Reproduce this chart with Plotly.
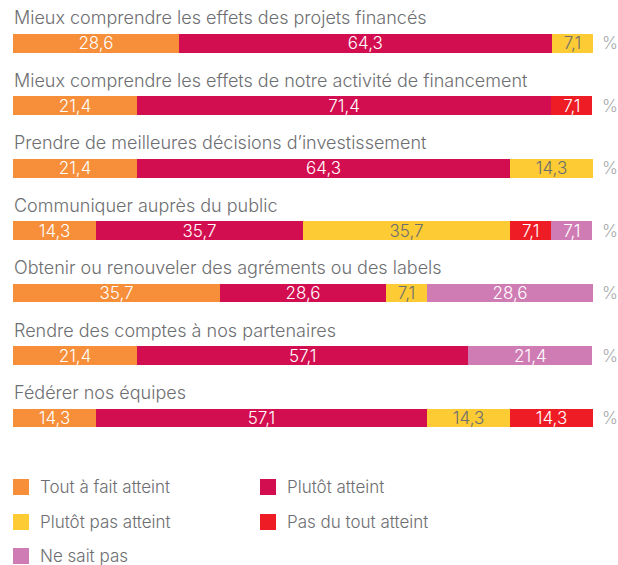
import plotly.graph_objects as go

categories = [
    "Mieux comprendre les effets des projets financés",
    "Mieux comprendre les effets de notre activité de financement",
    "Prendre de meilleures décisions d’investissement",
    "Communiquer auprès du public",
    "Obtenir ou renouveler des agréments ou des labels",
    "Rendre des comptes à nos partenaires",
    "Fédérer nos équipes",
]

tout_a_fait = [28.6, 21.4, 21.4, 14.3, 35.7, 21.4, 14.3]
plutot_atteint = [64.3, 71.4, 64.3, 35.7, 28.6, 57.1, 57.1]
plutot_pas = [7.1, 0, 14.3, 35.7, 7.1, 0, 14.3]
pas_du_tout = [0, 7.1, 0, 7.1, 0, 0, 14.3]
ne_sait_pas = [0, 0, 0, 7.1, 28.6, 21.4, 0]

series = [
    ("Tout à fait atteint", tout_a_fait, "#F68E3A", "white"),
    ("Plutôt atteint", plutot_atteint, "#D20E50", "white"),
    ("Plutôt pas atteint", plutot_pas, "#FDCB33", "#6d6e71"),
    ("Pas du tout atteint", pas_du_tout, "#EE1C25", "white"),
    ("Ne sait pas", ne_sait_pas, "#D07CB4", "white"),
]

W, H = 618, 565
M_L, M_R, M_T, M_B = 13, 25, 12, 109
FONT = "Inter, Liberation Sans, Arial, sans-serif"
WEIGHT = 300
GREY = "#6d6e71"

fig = go.Figure()
for name, vals, color, tcolor in series:
    fig.add_trace(go.Bar(
        y=categories,
        x=[v if v else None for v in vals],
        name=name,
        orientation="h",
        marker=dict(color=color, line=dict(width=0)),
        text=[f"{v:.1f}".replace(".", ",") if v else "" for v in vals],
        textposition="inside",
        insidetextanchor="middle",
        constraintext="none",
        textangle=0,
        textfont=dict(size=17, color=tcolor, family=FONT, weight=WEIGHT),
        showlegend=False,
        hoverinfo="skip",
    ))

annotations = []
for cat in categories:
    annotations.append(dict(
        x=0, xref="paper", y=cat, yref="y", text=cat,
        xanchor="left", yanchor="middle", yshift=25.5, xshift=-1,
        showarrow=False, font=dict(size=18, color=GREY, family=FONT, weight=WEIGHT),
    ))
    annotations.append(dict(
        x=1, xref="paper", y=cat, yref="y", text="%",
        xanchor="left", yanchor="middle", xshift=7,
        showarrow=False, font=dict(size=17, color="#a7a9ac", family=FONT, weight=WEIGHT),
    ))

# custom legend below the plot (two columns)
plot_h = H - M_T - M_B
plot_w = W - M_L - M_R


def py(pix):
    return (H - M_B - pix) / plot_h


def px(pix):
    return (pix - M_L) / plot_w


legend_pos = [(13, 487), (260, 487), (13, 522), (260, 522), (13, 556)]
shapes = []
for (name, vals, color, tcolor), (lx, ly) in zip(series, legend_pos):
    shapes.append(dict(
        type="rect", xref="paper", yref="paper",
        x0=px(lx), x1=px(lx + 16), y0=py(ly + 8), y1=py(ly - 8),
        fillcolor=color, line=dict(width=0),
    ))
    annotations.append(dict(
        x=px(lx + 25), xref="paper", y=py(ly), yref="paper", text=name,
        xanchor="left", yanchor="middle", showarrow=False,
        font=dict(size=17, color=GREY, family=FONT, weight=WEIGHT),
    ))

fig.update_layout(
    barmode="stack",
    bargap=0.70,
    width=W, height=H,
    margin=dict(l=M_L, r=M_R, t=M_T, b=M_B),
    paper_bgcolor="white",
    plot_bgcolor="white",
    xaxis=dict(range=[0, 100], visible=False, fixedrange=True),
    yaxis=dict(autorange="reversed", visible=False, fixedrange=True),
    annotations=annotations,
    shapes=shapes,
    font=dict(family=FONT, color=GREY),
)

fig.write_html("out.html", config={"displayModeBar": False},
               post_script="document.body.style.margin='0';")
